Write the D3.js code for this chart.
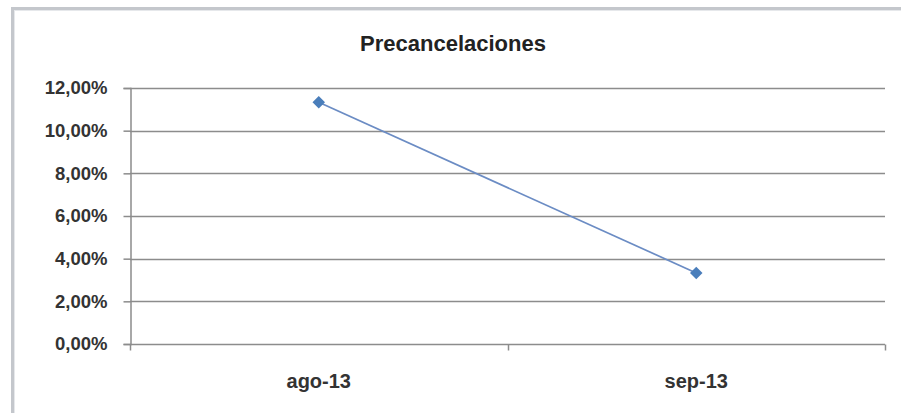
<!DOCTYPE html>
<html>
<head>
<meta charset="utf-8">
<script src="https://cdn.jsdelivr.net/npm/d3@7"></script>
<style>
  html, body { margin: 0; padding: 0; background: #fff; }
  svg { display: block; }
  text { font-family: Arial, "Liberation Sans", sans-serif; }
</style>
</head>
<body>
<svg id="chart" width="901" height="413"></svg>
<script>
// Monthly pre-cancellation rate
const months = ["ago-13", "sep-13"];
const rates = [0.1133, 0.0333];
const yTicks = [0, 0.02, 0.04, 0.06, 0.08, 0.10, 0.12];
const chartTitle = "Precancelaciones";

const W = 901, H = 413;
const m = { left: 130, right: 16, top: 88, bottom: 69 };
const svg = d3.select("#chart");

// outer chart frame
svg.append("rect")
  .attr("x", 12.5).attr("y", 8.5)
  .attr("width", W + 10).attr("height", H + 10)
  .attr("fill", "#fff").attr("stroke", "#c4c7cc").attr("stroke-width", 3);
svg.append("rect")
  .attr("x", 14.5).attr("y", 10.5)
  .attr("width", W + 10).attr("height", H + 10)
  .attr("fill", "none").attr("stroke", "#e6e8eb").attr("stroke-width", 1);

const x = d3.scaleBand().domain(months)
  .range([m.left, W - m.right]);
const y = d3.scaleLinear().domain([0, 0.12])
  .range([H - m.bottom, m.top]);

const fmt = v => d3.format(".2f")(v * 100).replace(".", ",") + "%";

// horizontal gridlines
svg.append("g").selectAll("line").data(yTicks.filter(d => d > 0)).join("line")
  .attr("x1", m.left).attr("x2", W - m.right)
  .attr("y1", d => Math.round(y(d)) + 0.5).attr("y2", d => Math.round(y(d)) + 0.5)
  .attr("stroke", "#8c8c8c").attr("stroke-width", 1.5);

// y axis
const yAxis = svg.append("g")
  .attr("transform", `translate(${m.left + 0.5},0)`)
  .call(d3.axisLeft(y).tickValues(yTicks).tickFormat(fmt).tickSize(7).tickPadding(16));
yAxis.select(".domain").attr("stroke", "#8c8c8c").attr("stroke-width", 1.5);
yAxis.selectAll(".tick line").attr("stroke", "#8c8c8c").attr("stroke-width", 1.5);
yAxis.selectAll(".tick text")
  .attr("fill", "#333").attr("font-size", 18.5).attr("font-weight", "bold");

// x axis with tick marks at category boundaries
const xBase = Math.round(y(0)) + 0.5;
svg.append("line")
  .attr("x1", m.left).attr("x2", W - m.right)
  .attr("y1", xBase).attr("y2", xBase)
  .attr("stroke", "#8c8c8c").attr("stroke-width", 1.5);
const bounds = months.map(d => x(d)).concat([x(months[months.length - 1]) + x.bandwidth()]);
svg.append("g").selectAll("line").data(bounds).join("line")
  .attr("x1", d => Math.round(d) + 0.5).attr("x2", d => Math.round(d) + 0.5)
  .attr("y1", xBase).attr("y2", xBase + 6)
  .attr("stroke", "#8c8c8c").attr("stroke-width", 1.5);
svg.append("g").selectAll("text").data(months).join("text")
  .attr("x", d => x(d) + x.bandwidth() / 2)
  .attr("y", xBase + 43)
  .attr("text-anchor", "middle")
  .attr("fill", "#333").attr("font-size", 20).attr("font-weight", "bold")
  .text(d => d);

// series line
const pts = months.map((d, i) => [x(d) + x.bandwidth() / 2, y(rates[i])]);
svg.append("path")
  .attr("d", d3.line()(pts))
  .attr("fill", "none").attr("stroke", "#6b8cc4").attr("stroke-width", 1.7);

// diamond markers
svg.append("g").selectAll("path").data(pts).join("path")
  .attr("transform", d => `translate(${d[0]},${d[1]})`)
  .attr("d", d3.symbol(d3.symbolDiamond2, 100)())
  .attr("fill", "#4a7ebb");

// title
svg.append("text")
  .attr("x", 453).attr("y", 51)
  .attr("text-anchor", "middle")
  .attr("fill", "#222").attr("font-size", 22).attr("font-weight", "bold")
  .text(chartTitle);
</script>
</body>
</html>
